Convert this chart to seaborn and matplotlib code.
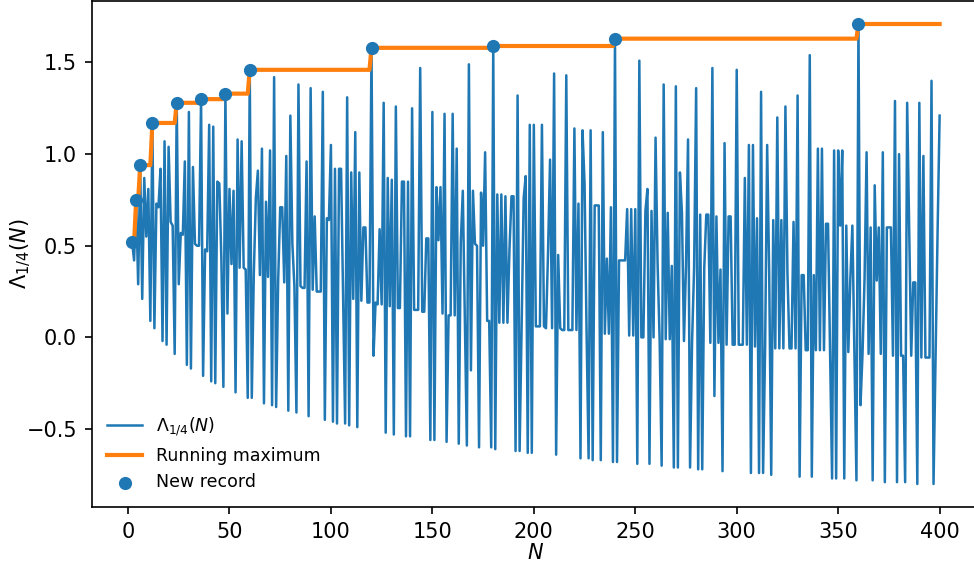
import numpy as np
import pandas as pd
import seaborn as sns
import matplotlib.pyplot as plt


# N runs from 2 to 400
n_values = list(range(2, 401))

# values, one per N
lambda_values = [
    0.52, 0.42, 0.75, 0.29, 0.94, 0.21, 0.87, 0.55, 0.81,
    0.09, 1.17, 0.05, 0.73, 0.71, 0.92, -0.02, 1.07, -0.04, 1.04,
    0.63, 0.61, -0.09, 1.28, 0.29, 0.57, 0.56, 0.96, -0.15, 1.23,
    -0.17, 0.93, 0.51, 0.50, 0.50, 1.30, -0.21, 0.48, 0.47, 1.16,
    -0.24, 1.15, -0.25, 0.85, 0.84, 0.43, -0.27, 1.33, 0.13, 0.81,
    0.40, 0.80, -0.30, 1.08, 0.38, 1.07, 0.38, 0.37, -0.33, 1.46,
    -0.33, 0.35, 0.76, 0.91, 0.34, 1.03, -0.36, 0.74, 0.33, 1.02,
    -0.37, 1.42, -0.38, 0.31, 0.71, 0.71, 0.30, 0.99, -0.40, 1.21,
    0.51, 0.28, -0.41, 1.38, 0.28, 0.27, 0.27, 0.96, -0.43, 1.36,
    0.26, 0.66, 0.25, 0.25, 0.25, 1.34, -0.45, 0.65, 0.64, 1.05,
    -0.46, 0.92, -0.47, 0.92, 0.92, 0.22, -0.47, 1.31, -0.48, 0.90,
    0.21, 1.12, -0.49, 0.90, 0.20, 0.60, 0.60, 0.19, 0.19, 1.58,
    -0.10, 0.19, 0.18, 0.59, 0.18, 1.28, -0.52, 0.87, 0.17, 0.86,
    -0.53, 1.26, 0.16, 0.16, 0.85, 0.85, -0.54, 0.85, -0.54, 1.25,
    0.15, 0.15, 0.15, 1.47, 0.14, 0.14, 0.54, 0.54, -0.56, 1.23,
    -0.56, 0.82, 0.53, 0.82, 0.13, 1.22, -0.57, 0.12, 0.12, 1.22,
    0.12, 1.03, -0.58, 0.52, 0.80, 0.11, -0.59, 1.49, -0.18, 0.80,
    0.51, 0.50, -0.60, 0.79, 0.50, 1.01, 0.09, 0.09, -0.60, 1.59,
    -0.61, 0.78, 0.08, 0.78, 0.08, 0.77, 0.08, 0.48, 0.77, 0.77,
    -0.62, 1.32, -0.62, 0.07, 0.76, 0.88, -0.63, 1.16, -0.63, 1.16,
    0.06, 0.06, 0.06, 1.16, 0.06, 0.05, 0.46, 0.97, 0.05, 1.44,
    -0.64, 0.45, 0.05, 0.04, 0.04, 1.43, 0.04, 0.04, 0.04, 1.14,
    0.04, 0.73, -0.66, 1.13, 0.84, 0.03, -0.66, 1.13, -0.67, 0.72,
    0.72, 0.72, -0.67, 1.12, 0.02, 0.43, 0.02, 0.71, -0.68, 1.63,
    -0.68, 0.42, 0.42, 0.42, 0.42, 0.70, 0.01, 0.70, 0.01, 0.70,
    -0.69, 1.51, 0.00, 0.00, 0.69, 0.81, -0.69, 0.69, -0.00, 1.09,
    0.40, -0.01, -0.70, 1.38, -0.01, 0.68, -0.01, 0.39, -0.71, 1.37,
    -0.71, 0.90, 0.68, -0.02, 0.39, 1.08, -0.71, -0.02, 0.38, 1.36,
    -0.72, 0.67, -0.72, 0.38, 0.67, 0.67, -0.03, 1.47, -0.32, 0.66,
    -0.03, 0.37, -0.73, 1.06, -0.04, 0.66, 0.66, -0.04, -0.04, 1.46,
    -0.04, -0.04, -0.04, 0.87, -0.04, 1.05, -0.74, 1.05, -0.05, 0.65,
    -0.74, 1.34, -0.74, -0.05, 1.05, 0.35, -0.75, 0.64, -0.06, 1.20,
    -0.06, 0.64, -0.06, 1.26, 0.35, -0.06, -0.06, 0.63, -0.06, 1.32,
    -0.76, 0.34, 0.34, -0.07, -0.07, 1.54, -0.76, 0.34, -0.07, 1.03,
    -0.07, 1.03, -0.07, 0.62, 0.62, -0.08, -0.77, 1.02, -0.77, 1.02,
    0.61, 1.02, -0.77, 0.61, -0.08, 0.32, 0.61, -0.08, -0.78, 1.71,
    -0.37, -0.09, 0.32, 1.01, -0.09, 0.60, -0.78, 0.83, 0.31, 0.60,
    -0.09, 1.01, -0.79, 0.60, 0.60, 0.60, -0.10, 1.29, -0.79, 1.00,
    -0.10, -0.10, -0.79, 1.28, 0.59, -0.10, 0.30, 0.30, -0.80, 1.28,
    -0.11, 0.99, -0.11, -0.11, -0.11, 1.40, -0.80, -0.11, 0.58, 1.21,
]

# N where the running maximum jumps
record_n = [2, 4, 6, 12, 24, 36, 48, 60, 120, 180, 240, 360]

df = pd.DataFrame({'N': n_values, 'lam': lambda_values})
df['run_max'] = df['lam'].cummax()
records = df[df['N'].isin(record_n)]

fig = plt.figure(figsize=(974 / 150, 564 / 150), dpi=150)
ax = fig.add_axes([91.7 / 974, 57 / 564, (980 - 91.7) / 974, 506 / 564])

sns.lineplot(data=df, x='N', y='lam', ax=ax, color='C0', linewidth=1.2,
             label=r'$\Lambda_{1/4}(N)$')
sns.lineplot(data=df, x='N', y='run_max', ax=ax, color='C1', linewidth=2,
             label='Running maximum')
sns.scatterplot(data=records, x='N', y='lam', ax=ax, color='C0', s=40,
                linewidth=0, zorder=3, label='New record')

ax.set_xlabel(r'$N$', fontsize=10)
ax.set_ylabel(r'$\Lambda_{1/4}(N)$', fontsize=10)
ax.xaxis.set_label_coords(0.5, -0.072)
ax.yaxis.set_label_coords(-0.066, 0.5)
ax.set_xticks(np.arange(0, 401, 50))
ax.legend(loc='lower left', fontsize='small', frameon=False)

fig.savefig('out.png', dpi=150)
